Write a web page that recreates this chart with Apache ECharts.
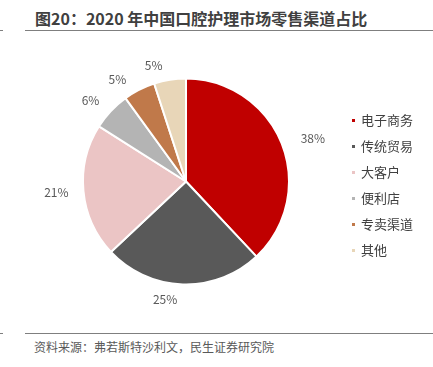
<!DOCTYPE html>
<html>
<head>
<meta charset="utf-8">
<script src="https://cdn.jsdelivr.net/npm/echarts@6/dist/echarts.min.js"></script>
<style>
  html, body { margin: 0; padding: 0; background: #fff; }
  #wrap { position: relative; width: 433px; height: 367px; font-family: "Noto Sans CJK SC", sans-serif; }
  .title { position: absolute; left: 35px; top: 6px; font-size: 16px; font-weight: bold; color: #404040; }
  .rule { position: absolute; left: 25px; right: 0; height: 1px; background: #7f7f7f; }
  .tick { position: absolute; left: 0; width: 3px; height: 1px; background: #7f7f7f; }
  .source { position: absolute; left: 34px; top: 338px; font-size: 12px; color: #595959; }
  #chart { position: absolute; left: 0; top: 40px; width: 433px; height: 290px; }
</style>
</head>
<body>
<div id="wrap">
  <div class="title">图20：2020 年中国口腔护理市场零售渠道占比</div>
  <div class="rule" style="top:30px"></div>
  <div class="tick" style="top:30px"></div>
  <div class="rule" style="top:333px"></div>
  <div class="tick" style="top:333px"></div>
  <div class="source">资料来源：弗若斯特沙利文，民生证券研究院</div>
  <div id="chart"></div>
</div>
<script>
const channels = ["电子商务", "传统贸易", "大客户", "便利店", "专卖渠道", "其他"];
const shares = [38, 25, 21, 6, 5, 5];
const colors = ["#C00000", "#595959", "#EBC5C5", "#B4B4B4", "#C0794A", "#E8D6B8"];

const chart = echarts.init(document.getElementById("chart"));
chart.setOption({
  animation: false,
  color: colors,
  legend: {
    orient: "vertical",
    left: 345,
    top: 69,
    itemWidth: 5,
    itemHeight: 5,
    itemGap: 13,
    icon: "rect",
    textStyle: { color: "#404040", fontSize: 13, fontFamily: "Noto Sans CJK SC" },
    data: channels
  },
  series: [{
    type: "pie",
    center: [186, 141.5],
    radius: 103,
    startAngle: 90,
    clockwise: true,
    itemStyle: { borderColor: "#fff", borderWidth: 2 },
    label: {
      show: true,
      position: "outside",
      formatter: "{c}%",
      color: "#595959",
      fontSize: 12,
      fontFamily: "Noto Sans CJK SC"
    },
    labelLine: { show: false, length: 15, length2: 0 },
    data: channels.map((n, i) => ({ name: n, value: shares[i] }))
  }]
});
</script>
</body>
</html>
